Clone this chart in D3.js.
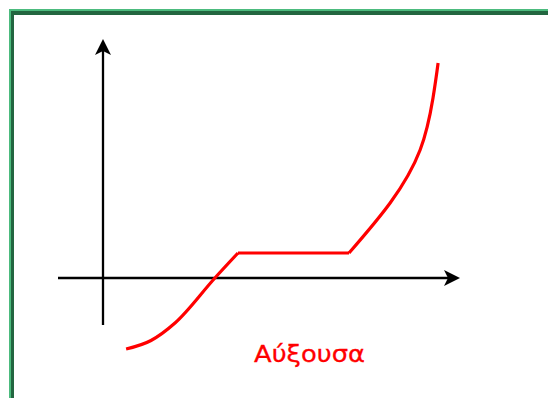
<!DOCTYPE html>
<html>
<head>
<meta charset="utf-8">
<script src="https://cdn.jsdelivr.net/npm/d3@7"></script>
<style>
  html, body { margin: 0; padding: 0; background: #fff; }
  svg { display: block; }
</style>
</head>
<body>
<svg id="chart" width="548" height="398"></svg>
<script>
// Curve pieces of the increasing function: rising part, flat step, steep rise
const risePart = [[0.77, -2.84], [1.6, -2.5], [2.4, -1.8], [3.73, 0], [4.5, 1.0]];
const flatPart = [[4.5, 1.0], [8.2, 1.0]];
const steepPart = [[8.2, 1.0], [9.57, 3.0], [10.57, 5.12], [11.0, 7.2], [11.17, 8.6]];
// Extents of the two axes
const xAxisExtent = [-1.5, 11.9];
const yAxisExtent = [-1.88, 9.56];
const caption = "Αύξουσα";

const svg = d3.select("#chart");
const W = 548, H = 398;

// Frame: light outer line and dark inner line along top and left
svg.append("rect").attr("x", 9).attr("y", 9).attr("width", W).attr("height", H).attr("fill", "#4cbb7e");
svg.append("rect").attr("x", 11).attr("y", 11).attr("width", W).attr("height", H).attr("fill", "#236640");
svg.append("rect").attr("x", 14).attr("y", 15).attr("width", W).attr("height", H).attr("fill", "#ffffff");

const x = d3.scaleLinear().domain(xAxisExtent).range([58, 460]);
const y = d3.scaleLinear().domain(yAxisExtent).range([325, 39]);

const axes = svg.append("g").attr("stroke", "#000").attr("stroke-width", 2.3);
axes.append("line")
  .attr("x1", x(xAxisExtent[0])).attr("x2", x(xAxisExtent[1]) - 6)
  .attr("y1", y(0)).attr("y2", y(0));
axes.append("line")
  .attr("x1", x(0)).attr("x2", x(0))
  .attr("y1", y(yAxisExtent[0])).attr("y2", y(yAxisExtent[1]) + 6);

// Notched arrowheads at the positive ends
function arrowHead(tx, ty, angle) {
  const len = 16, half = 8, notch = 4;
  const pts = [[0, 0], [-len, -half], [-len + notch, 0], [-len, half]];
  const g = svg.append("g").attr("transform", `translate(${tx},${ty}) rotate(${angle})`);
  g.append("path").attr("d", d3.line()(pts) + "Z").attr("fill", "#000");
}
arrowHead(x(xAxisExtent[1]), y(0), 0);
arrowHead(x(0), y(yAxisExtent[1]), -90);

const line = d3.line().x(d => x(d[0])).y(d => y(d[1]));
const smooth = d3.line().x(d => x(d[0])).y(d => y(d[1])).curve(d3.curveMonotoneX);
const natural = d3.line().x(d => x(d[0])).y(d => y(d[1])).curve(d3.curveNatural);

const fg = svg.append("g").attr("fill", "none").attr("stroke", "#ff0000")
  .attr("stroke-width", 3.2).attr("stroke-linejoin", "miter");
fg.append("path").attr("d", smooth(risePart));
fg.append("path").attr("d", line(flatPart));
fg.append("path").attr("d", natural(steepPart));

svg.append("text")
  .attr("x", 254).attr("y", 362)
  .attr("fill", "#ff0000")
  .attr("stroke", "#ff0000").attr("stroke-width", 0.3)
  .attr("font-family", "'Comic Sans MS', 'Comic Neue', 'DejaVu Sans', sans-serif")
  .attr("font-size", 23)
  .attr("textLength", 111)
  .attr("lengthAdjust", "spacingAndGlyphs")
  .text(caption);
</script>
</body>
</html>
